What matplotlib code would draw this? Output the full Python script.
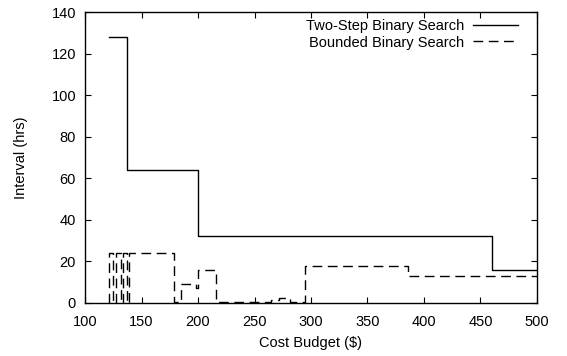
import numpy as np
import matplotlib
matplotlib.use("Agg")
import matplotlib.pyplot as plt

plt.rcParams['font.family'] = ['Liberation Sans', 'DejaVu Sans']
plt.rcParams['font.size'] = 10.5

# step curves: interval chosen for each cost budget
two_step_x = [121, 137, 200, 460, 500]
two_step_y = [128, 64, 32, 16, 16]

bounded_x = [121, 121, 125, 127, 132, 134, 137, 139, 179, 185, 198, 200, 216,
             255, 265, 272, 281, 295, 386, 500]
bounded_y = [0, 24, 0, 24, 0, 24, 0, 24, 0.5, 9, 7, 16, 0.3,
             0.6, 1.2, 2.5, 0.3, 18, 13, 13]

xticks = [100, 150, 200, 250, 300, 350, 400, 450, 500]
yticks = [0, 20, 40, 60, 80, 100, 120, 140]

fig = plt.figure(figsize=(5.67, 3.56), dpi=100)
ax = fig.add_axes([0.150, 0.149, 0.797, 0.817])

ax.plot(two_step_x, two_step_y, drawstyle='steps-post', color='black',
        lw=1.0, label='Two-Step Binary Search')
ax.plot(bounded_x, bounded_y, drawstyle='steps-post', color='black',
        lw=1.0, dashes=(7, 4), label='Bounded Binary Search')

ax.set_xlim(100, 500)
ax.set_ylim(0, 140)
ax.set_xticks(xticks)
ax.set_yticks(yticks)
ax.tick_params(direction='in', top=True, right=True, length=4, width=0.8)
ax.tick_params(axis='x', pad=8.5)
ax.tick_params(axis='y', pad=6.5)
for s in ax.spines.values():
    s.set_linewidth(1.0)

ax.set_xlabel('Cost Budget ($)', labelpad=5)
ax.set_ylabel('Interval (hrs)', labelpad=17)

ax.legend(loc='upper right', bbox_to_anchor=(0.978, 1.005), frameon=False,
          markerfirst=False, handlelength=3.1, handletextpad=0.6,
          labelspacing=0.15, borderaxespad=0.2, fontsize=10.5)

fig.savefig('out.png', dpi=100)
